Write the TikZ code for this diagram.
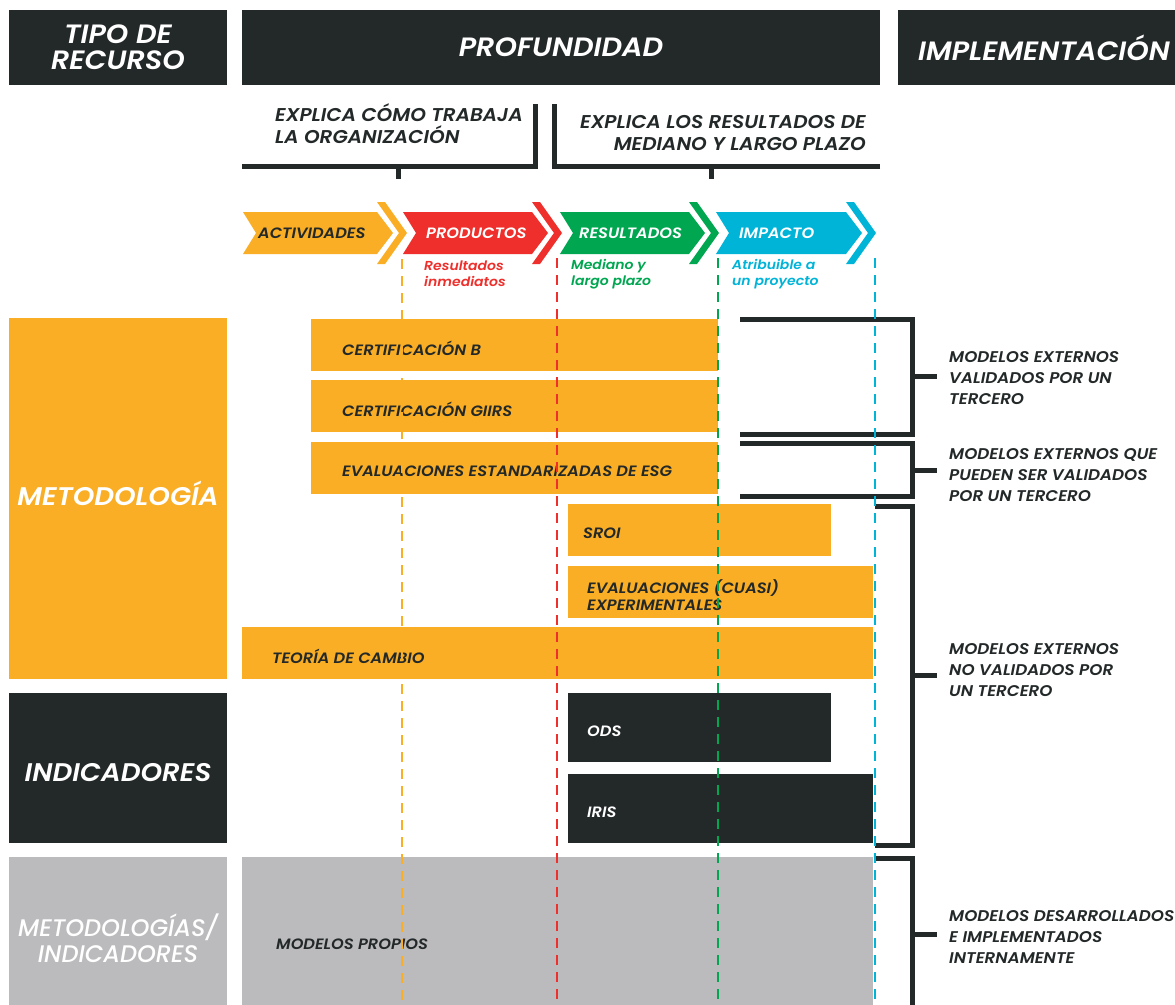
\documentclass[tikz,border=0pt]{standalone}
\usepackage{fontspec}
\setmainfont{Poppins}[BoldFont={Poppins SemiBold},BoldItalicFont={Poppins SemiBold Italic},FakeStretch=1.08]
\newfontfamily\medit{Poppins Medium Italic}
\definecolor{cOr}{HTML}{F9AE25}
\definecolor{cRd}{HTML}{EE2F2B}
\definecolor{cGn}{HTML}{00A650}
\definecolor{cCy}{HTML}{00B4D8}
\definecolor{cDk}{HTML}{232829}
\definecolor{cGy}{HTML}{BBBBBD}
\newcommand{\myfs}[2]{\fontsize{#1}{#2}\selectfont}
\tikzset{
  blk/.style={anchor=north west, inner sep=0pt, outer sep=0pt, draw=none},
  hdr/.style={blk, fill=cDk, text=white, font=\bfseries\itshape\myfs{26.5}{26}, align=center},
  colbox/.style={blk},
  coltxt/.style={inner sep=0pt, text=white, font=\bfseries\itshape\myfs{25.5}{26}, align=center},
  bar/.style={blk},
  bartxt/.style={anchor=west, inner sep=0pt, yshift=-3.5pt, text=cDk, font=\bfseries\itshape\myfs{15}{17}, align=left},
  toptxt/.style={inner sep=0pt, text=cDk, font=\bfseries\itshape\myfs{18.5}{22}},
  arrtxt/.style={anchor=west, inner sep=0pt, text=white, font=\bfseries\itshape\myfs{15}{16}},
  subtxt/.style={anchor=west, inner sep=0pt, font=\bfseries\itshape\myfs{13}{16}, align=left},
  rtxt/.style={anchor=west, inner sep=0pt, text=cDk, font=\bfseries\itshape\myfs{15.5}{21}, align=left},
  brk/.style={draw=cDk, line width=5pt},
  vdash/.style={line width=2pt, dash pattern=on 10pt off 7pt},
}
\newcommand{\chev}[3]{%
  \fill[#3] (#1,212) -- ({#2-16},212) -- (#2,233) -- ({#2-16},254) -- (#1,254) -- ({#1+13},233) -- cycle;
  \fill[#3] ({#2-16},202) -- ({#2-8},202) -- ({#2+14},233) -- ({#2-8},264) -- ({#2-16},264) -- ({#2+6},233) -- cycle;}
\begin{document}
\begin{tikzpicture}[x=1pt,y=-1pt]
\useasboundingbox[fill=white] (0,0) rectangle (1175,1004);
% headers
\node[hdr, minimum width=218, minimum height=75] (tipo) at (9,10) {TIPO DE\\RECURSO};
\node[hdr, minimum width=638, minimum height=75] (prof) at (242,10) {PROFUNDIDAD};
\node[hdr, minimum width=292, minimum height=75] (impl) at (898,10) {IMPLEMENTACIÓN};
% top brackets
\node[toptxt, anchor=west, align=left] (tl) at (275,124) {EXPLICA CÓMO TRABAJA\\LA ORGANIZACIÓN};
\node[toptxt, anchor=east, align=right] (tr) at (866,133) {EXPLICA LOS RESULTADOS DE\\MEDIANO Y LARGO PLAZO};
\draw[brk] (242,166) -- (535,166) -- (535,104);
\draw[brk] (398,166) -- (398,179);
\draw[brk] (880,166) -- (554,166) -- (554,104);
\draw[brk] (711,166) -- (711,179);
% chevrons
\chev{243}{393}{cOr}
\chev{403}{548}{cRd}
\chev{560}{705}{cGn}
\chev{716}{862}{cCy}
\node[arrtxt, text=cDk] (a1) at (258,233) {ACTIVIDADES};
\node[arrtxt] (a2) at (426,233) {PRODUCTOS};
\node[arrtxt] (a3) at (579,233) {RESULTADOS};
\node[arrtxt] (a4) at (739,233) {IMPACTO};
\node[subtxt, text=cRd] (s2) at (424,274) {Resultados\\inmediatos};
\node[subtxt, text=cGn] (s3) at (571,274) {Mediano y\\largo plazo};
\node[subtxt, text=cCy] (s4) at (732,274) {Atribuible a\\un proyecto};
% left column
\node[colbox, fill=cOr, minimum width=218, minimum height=361] (met) at (9,318) {};
\node[colbox, fill=cDk, minimum width=218, minimum height=150] (ind) at (9,693) {};
\node[colbox, fill=cGy, minimum width=218, minimum height=160] (mi) at (9,857) {};
\node[coltxt] (mett) at (118,493.5) {METODOLOGÍA};
\node[coltxt] (indt) at (118,773) {INDICADORES};
\node[coltxt, font=\medit\myfs{24}{26}] (mit) at (118,938.5) {METODOLOGÍAS/\\INDICADORES};
% bars
\node[bar, fill=cOr, minimum width=407, minimum height=52] (b1) at (311,319) {};
\node[bar, fill=cOr, minimum width=407, minimum height=52] (b2) at (311,380) {};
\node[bar, fill=cOr, minimum width=407, minimum height=52] (b3) at (311,442) {};
\node[bar, fill=cOr, minimum width=263, minimum height=52] (b4) at (568,504) {};
\node[bar, fill=cOr, minimum width=305, minimum height=52] (b5) at (568,566) {};
\node[bar, fill=cOr, minimum width=631, minimum height=52] (b6) at (242,627) {};
\node[bar, fill=cDk, minimum width=263, minimum height=69] (b7) at (568,693) {};
\node[bar, fill=cDk, minimum width=305, minimum height=69] (b8) at (568,774) {};
\node[bar, fill=cGy, minimum width=631, minimum height=160] (b9) at (242,857) {};
\node[bartxt] (t1) at ([xshift=31]b1.west) {CERTIFICACIÓN B};
\node[bartxt] (t2) at ([xshift=31]b2.west) {CERTIFICACIÓN GIIRS};
\node[bartxt] (t3) at ([xshift=31]b3.west) {EVALUACIONES ESTANDARIZADAS DE ESG};
\node[bartxt] (t4) at ([xshift=15]b4.west) {SROI};
\node[bartxt] (t5) at ([xshift=19,yshift=0.5]b5.west) {EVALUACIONES (CUASI)\\EXPERIMENTALES};
\node[bartxt] (t6) at ([xshift=30]b6.west) {TEORÍA DE CAMBIO};
\node[bartxt, text=white] (t7) at ([xshift=19]b7.west) {ODS};
\node[bartxt, text=white] (t8) at ([xshift=19]b8.west) {IRIS};
\node[bartxt] (t9) at (276,941) {MODELOS PROPIOS};
% right brackets
\draw[brk] (740,319) -- (912,319) -- (912,434) -- (740,434);
\draw[brk] (912,376) -- (937,376);
\draw[brk] (740,443) -- (912,443) -- (912,496) -- (740,496);
\draw[brk] (912,470) -- (937,470);
\draw[brk] (875,506) -- (912,506) -- (912,845) -- (875,845);
\draw[brk] (912,675) -- (937,675);
\draw[brk] (875,858) -- (912,858) -- (912,1012);
\draw[brk] (912,934) -- (937,934);
\node[rtxt] (r1) at (949,378) {MODELOS EXTERNOS\\VALIDADOS POR UN\\TERCERO};
\node[rtxt] (r2) at (949,475) {MODELOS EXTERNOS QUE\\PUEDEN SER VALIDADOS\\POR UN TERCERO};
\node[rtxt] (r3) at (949,670) {MODELOS EXTERNOS\\NO VALIDADOS POR\\UN TERCERO};
\node[rtxt] (r4) at (949,937) {MODELOS DESARROLLADOS\\E IMPLEMENTADOS\\INTERNAMENTE};
% dashed guide lines
\draw[vdash, cOr] (402,259) -- (402,1010);
\draw[vdash, cRd] (557,258) -- (557,1010);
\draw[vdash, cGn] (718,258) -- (718,1010);
\draw[vdash, cCy] (875,258) -- (875,1010);
\end{tikzpicture}
\end{document}
